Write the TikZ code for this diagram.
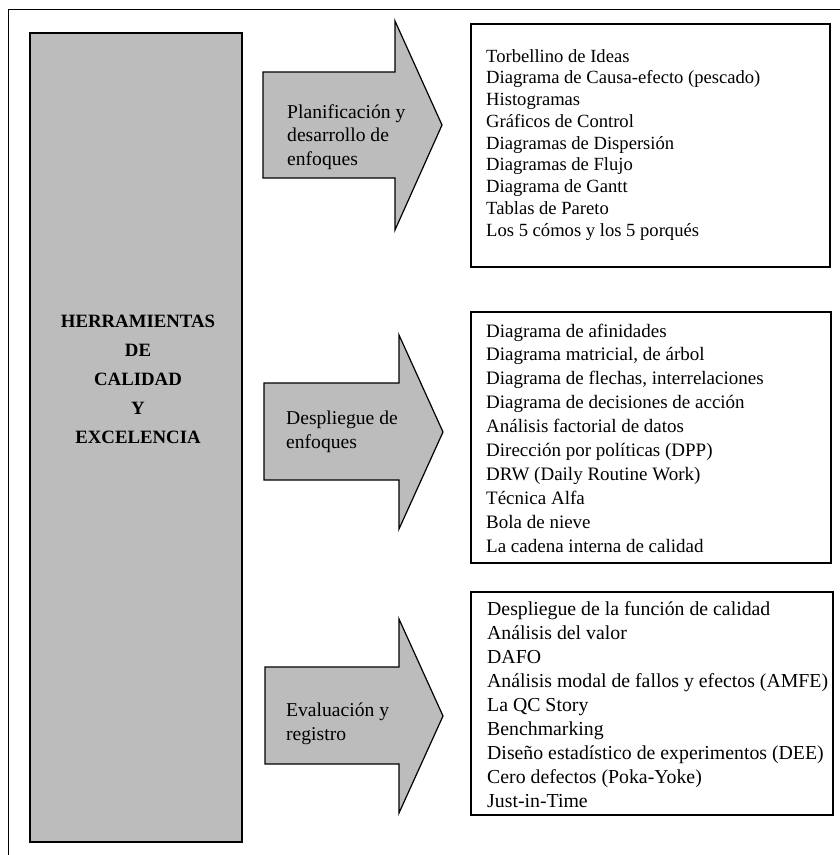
\documentclass[tikz,border=0pt]{standalone}
\usepackage{fontspec}
\setmainfont{Liberation Serif}
\usetikzlibrary{positioning}
\definecolor{grisfondo}{RGB}{188,188,188}
\tikzset{
  marco/.style={draw=black, line width=0.9pt},
  herrbox/.style={draw=black, line width=1.2pt, fill=grisfondo},
  herrtxt/.style={anchor=base, inner sep=0pt, font=\fontsize{18.8}{22}\selectfont\bfseries},
  flecha/.style={draw=black, line width=1.2pt, fill=grisfondo, line join=miter},
  flechatxt/.style={anchor=north west, inner sep=0pt, align=left, font=\fontsize{19.6}{23.5}\selectfont},
  listabox/.style={draw=black, line width=1.2pt},
  item/.style={anchor=base west, inner sep=0pt}
}

\begin{document}
\begin{tikzpicture}[x=1pt, y=-1pt]
        \useasboundingbox (0,0) rectangle (840,855);
        % Marco exterior (solo arriba e izquierda)
        \draw [marco] (8,855) -- (8,9) -- (840,9);

        % Bloque de la izquierda
        \draw [herrbox] (30,33) rectangle (242,842);
        \foreach \t [count=\i] in {HERRAMIENTAS, DE, CALIDAD, Y, EXCELENCIA}
            \node (h\i) [herrtxt] at (138,{327+29*(\i-1)}) {\t};

        % Flechas
        \draw [flecha] (263,72) -- (395,72) -- (395,21) -- (442,125) -- (395,230) -- (395,178) -- (263,178) -- cycle;
        \node (plan) [flechatxt] at (287,104) {Planificación y\\desarrollo de\\enfoques};

        \draw [flecha] (264,383) -- (399,383) -- (399,335) -- (443,432) -- (399,529) -- (399,480) -- (264,480) -- cycle;
        \node (despl) [flechatxt] at (286,411) {Despliegue de\\enfoques};

        \draw [flecha] (265,667) -- (399,667) -- (399,619) -- (443,716) -- (399,813) -- (399,764) -- (265,764) -- cycle;
        \node (eval) [flechatxt] at (286,703) {Evaluación y\\registro};

        % Listas de herramientas
        \draw [listabox] (471,24) rectangle (830,267);
        \foreach \t [count=\i] in {Torbellino de Ideas, Diagrama de Causa-efecto (pescado), Histogramas,
            Gráficos de Control, Diagramas de Dispersión, Diagramas de Flujo, Diagrama de Gantt,
            Tablas de Pareto, Los 5 cómos y los 5 porqués}
            \node (p\i) [item, font=\fontsize{18.6}{22}\selectfont] at (486,{62+21.75*(\i-1)}) {\t};

        \draw [listabox] (471,312) rectangle (831,563);
        \foreach \t [count=\i] in {Diagrama de afinidades, {Diagrama matricial, de árbol},
            {Diagrama de flechas, interrelaciones}, Diagrama de decisiones de acción,
            Análisis factorial de datos, Dirección por políticas (DPP), DRW (Daily Routine Work),
            Técnica Alfa, Bola de nieve, La cadena interna de calidad}
            \node (d\i) [item, font=\fontsize{19}{24}\selectfont] at (486,{337+23.9*(\i-1)}) {\t};

        \draw [listabox] (471,592) rectangle (833,815);
        \foreach \t [count=\i] in {Despliegue de la función de calidad, Análisis del valor, DAFO,
            Análisis modal de fallos y efectos (AMFE), La QC Story, Benchmarking,
            Diseño estadístico de experimentos (DEE), Cero defectos (Poka-Yoke), Just-in-Time}
            \node (e\i) [item, font=\fontsize{19.8}{24}\selectfont] at (487,{615+24*(\i-1)}) {\t};
\end{tikzpicture}
\end{document}
